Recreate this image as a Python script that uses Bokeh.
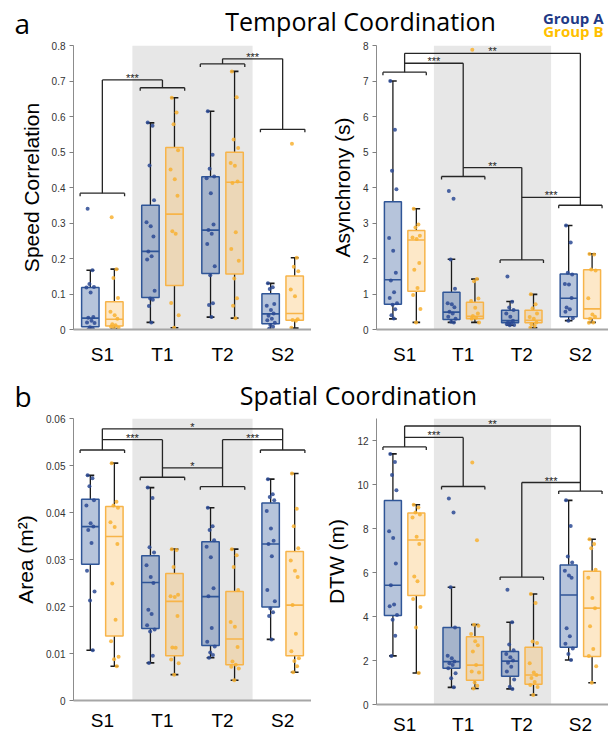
from bokeh.plotting import figure
from bokeh.layouts import column, row
from bokeh.models import Range1d, FixedTicker, ColumnDataSource
from bokeh.core.properties import value
from bokeh.embed import file_html
from bokeh.resources import INLINE

categories = ["S1", "T1", "T2", "S2"]

# ---------- Speed correlation ----------
speed_a_stats = [(0.0, 0.008, 0.032, 0.118, 0.167), (0.02, 0.09, 0.22, 0.35, 0.582),
                 (0.035, 0.158, 0.28, 0.43, 0.615), (0.0, 0.016, 0.044, 0.101, 0.13)]
speed_b_stats = [(0.003, 0.01, 0.029, 0.078, 0.17), (0.005, 0.124, 0.325, 0.513, 0.653),
                 (0.032, 0.156, 0.415, 0.499, 0.727), (0.004, 0.026, 0.045, 0.151, 0.202)]
speed_a_pts = [[0.34, 0.167, 0.128, 0.12, 0.118, 0.104, 0.035, 0.033, 0.025, 0.02, 0.018, 0.006, 0.003, 0.001],
               [0.583, 0.574, 0.462, 0.364, 0.302, 0.291, 0.262, 0.22, 0.206, 0.197, 0.109, 0.087, 0.084, 0.066, 0.02],
               [0.615, 0.492, 0.453, 0.431, 0.426, 0.384, 0.296, 0.28, 0.27, 0.241, 0.178, 0.153, 0.074, 0.069, 0.035],
               [0.13, 0.119, 0.114, 0.072, 0.067, 0.055, 0.045, 0.039, 0.03, 0.026, 0.019, 0.013, 0.008, 0.002]]
speed_b_pts = [[0.316, 0.17, 0.145, 0.089, 0.05, 0.04, 0.03, 0.015, 0.012, 0.008, 0.005, 0.003],
               [0.653, 0.611, 0.578, 0.505, 0.451, 0.423, 0.377, 0.277, 0.27, 0.075, 0.04, 0.005],
               [0.727, 0.654, 0.535, 0.511, 0.469, 0.461, 0.417, 0.413, 0.274, 0.227, 0.194, 0.144, 0.088, 0.067, 0.032],
               [0.523, 0.202, 0.177, 0.164, 0.113, 0.094, 0.029, 0.027, 0.025, 0.005]]
speed_ticks = [0, 0.1, 0.2, 0.3, 0.4, 0.5, 0.6, 0.7, 0.8]
speed_tick_labels = ["0", "0.1", "0.2", "0.3", "0.4", "0.5", "0.6", "0.7", "0.8"]
speed_bracket_y = [0.384, 0.681, 0.748, 0.564]
speed_links = [(0, 1, 0.703, "***"), (2, 3, 0.7625, "***")]

# ---------- Asynchrony ----------
async_a_stats = [(0.3, 0.71, 1.4, 3.6, 7.0), (0.2, 0.28, 0.49, 1.05, 1.98),
                 (0.12, 0.19, 0.25, 0.54, 0.79), (0.25, 0.36, 0.88, 1.56, 2.93)]
async_b_stats = [(0.2, 1.08, 2.52, 2.79, 3.4), (0.2, 0.3, 0.37, 0.77, 1.42),
                 (0.05, 0.19, 0.26, 0.54, 0.99), (0.2, 0.31, 0.58, 1.68, 2.13)]
async_a_pts = [[7.0, 5.63, 4.47, 3.95, 2.58, 2.22, 1.6, 1.38, 1.05, 0.89, 0.74, 0.7, 0.57, 0.4, 0.31],
               [3.9, 3.68, 1.97, 1.15, 0.74, 0.71, 0.63, 0.5, 0.45, 0.36, 0.3, 0.22, 0.2],
               [1.49, 0.78, 0.62, 0.55, 0.45, 0.36, 0.25, 0.2, 0.18, 0.15, 0.13, 0.12],
               [2.93, 2.45, 1.6, 1.55, 1.28, 1.27, 0.89, 0.62, 0.57, 0.5, 0.32, 0.25]]
async_b_pts = [[3.4, 2.96, 2.87, 2.64, 2.59, 2.55, 1.87, 1.68, 1.17, 0.97, 0.58, 0.2],
               [7.88, 1.42, 1.36, 0.87, 0.8, 0.61, 0.45, 0.38, 0.33, 0.3, 0.2],
               [0.99, 0.71, 0.6, 0.45, 0.35, 0.3, 0.2, 0.15, 0.1, 0.05],
               [2.13, 2.11, 1.69, 1.66, 0.88, 0.42, 0.36, 0.3, 0.2, 0.19]]
async_ticks = [0, 1, 2, 3, 4, 5, 6, 7, 8]
async_tick_labels = ["0", "1", "2", "3", "4", "5", "6", "7", "8"]
async_bracket_y = [7.25, 4.31, 1.96, 3.5]
async_links = [(0, 1, 7.5, "***"), (0, 3, 7.78, "**"), (1, 2, 4.56, "**"), (2, 3, 3.72, "***")]

# ---------- Area ----------
area_a_stats = [(0.0107, 0.029, 0.037, 0.0428, 0.0479), (0.008, 0.0153, 0.0251, 0.0308, 0.0453),
                (0.0091, 0.0117, 0.0221, 0.0338, 0.041), (0.013, 0.0199, 0.0333, 0.042, 0.0471)]
area_b_stats = [(0.0073, 0.0137, 0.0349, 0.0413, 0.0505), (0.0055, 0.0095, 0.0211, 0.027, 0.0322),
                (0.0043, 0.0076, 0.0131, 0.0232, 0.0322), (0.006, 0.0095, 0.0203, 0.0317, 0.0483)]
area_a_pts = [[0.0479, 0.0473, 0.0456, 0.0426, 0.0415, 0.0377, 0.037, 0.0363, 0.0335, 0.0276, 0.0232, 0.0213, 0.0107],
              [0.0453, 0.0431, 0.0326, 0.0315, 0.0288, 0.0263, 0.025, 0.0193, 0.0184, 0.016, 0.0151, 0.0147, 0.0095, 0.008],
              [0.041, 0.0371, 0.0363, 0.0341, 0.0327, 0.0305, 0.0239, 0.0222, 0.0154, 0.0125, 0.0115, 0.0102, 0.0097, 0.0091],
              [0.0471, 0.0439, 0.0433, 0.0426, 0.0403, 0.0366, 0.034, 0.0333, 0.0307, 0.0235, 0.0211, 0.0196, 0.0188, 0.018, 0.013]]
area_b_pts = [[0.0505, 0.0423, 0.0415, 0.041, 0.0379, 0.0369, 0.0333, 0.0249, 0.0172, 0.0126, 0.0093, 0.0088, 0.0073],
              [0.0322, 0.032, 0.0284, 0.0225, 0.0222, 0.022, 0.018, 0.0113, 0.0112, 0.0087, 0.0079, 0.0055],
              [0.0322, 0.0309, 0.0284, 0.0235, 0.0167, 0.0157, 0.0114, 0.0083, 0.0076, 0.0072, 0.0068, 0.0043],
              [0.0483, 0.0408, 0.0371, 0.0324, 0.0298, 0.0276, 0.0263, 0.0203, 0.0142, 0.0105, 0.009, 0.0084, 0.0073, 0.006]]
area_ticks = [0, 0.01, 0.02, 0.03, 0.04, 0.05, 0.06]
area_tick_labels = ["0", "0.01", "0.02", "0.03", "0.04", "0.05", "0.06"]
area_bracket_y = [0.0533, 0.0475, 0.0455, 0.0533]
area_links = [(0, 1, 0.0555, "***"), (0, 3, 0.0578, "*"), (1, 2, 0.0495, "*"), (2, 3, 0.0555, "***")]

# ---------- DTW ----------
dtw_a_stats = [(2.21, 4.05, 5.42, 9.27, 11.39), (0.78, 1.65, 1.95, 3.5, 5.33),
               (0.71, 1.28, 1.97, 2.41, 3.74), (2.02, 2.6, 4.98, 6.34, 9.28)]
dtw_b_stats = [(1.43, 4.96, 7.48, 8.7, 9.08), (0.73, 1.1, 1.79, 3.08, 3.63),
               (0.43, 0.92, 1.34, 2.6, 5.02), (0.99, 2.18, 4.38, 6.06, 7.51)]
dtw_a_pts = [[11.39, 11.02, 10.43, 9.74, 7.88, 7.57, 6.41, 5.42, 4.55, 4.47, 4.07, 3.85, 3.13, 2.21],
             [9.36, 8.73, 5.33, 3.5, 2.22, 2.1, 1.95, 1.88, 1.8, 1.65, 1.42, 1.19, 0.78],
             [5.22, 3.74, 2.73, 2.47, 2.29, 2.15, 2.0, 1.9, 1.72, 1.5, 1.14, 0.81, 0.71],
             [9.28, 8.11, 6.73, 6.46, 6.08, 5.86, 5.76, 3.47, 3.1, 2.76, 2.54, 2.3, 2.02]]
dtw_b_pts = [[9.08, 8.95, 8.73, 8.64, 8.5, 7.62, 7.3, 5.82, 5.6, 4.8, 4.43, 3.5, 1.43],
             [11.0, 7.47, 3.63, 3.58, 3.2, 2.87, 2.69, 2.41, 1.8, 1.5, 1.45, 1.0, 0.85, 0.73],
             [5.02, 4.61, 2.86, 2.8, 1.88, 1.45, 1.34, 1.2, 1.02, 0.89, 0.8, 0.43],
             [7.51, 7.3, 7.1, 6.12, 5.76, 4.84, 4.38, 3.56, 2.52, 2.2, 1.74, 0.99]]
dtw_ticks = [0, 2, 4, 6, 8, 10, 12]
dtw_tick_labels = ["0", "2", "4", "6", "8", "10", "12"]
dtw_bracket_y = [11.71, 9.91, 5.79, 9.7]
dtw_links = [(0, 1, 12.14, "***"), (0, 3, 12.66, "**"), (2, 3, 10.09, "***")]

# ---------- styling ----------
A_EDGE, A_DOT = "#2F5597", "#2B4A94"
B_EDGE, B_DOT = "#F7B449", "#F8B132"
JIT = [-0.045, 0.035, -0.015, 0.06, -0.065, 0.005, 0.05, -0.035, 0.02, -0.055, 0.07, -0.005, 0.04, -0.025, 0.015]
AX_FONT = "Liberation Sans"
TITLE_FONT = "Open Sans"


def draw_group(p, stats, pts, offset, edge, dot, fill_alpha):
    xs = [i + 1 + offset for i in range(len(stats))]
    lo = [s[0] for s in stats]; q1 = [s[1] for s in stats]; med = [s[2] for s in stats]
    q3 = [s[3] for s in stats]; hi = [s[4] for s in stats]
    hw, cw = 0.145, 0.065
    p.segment(xs, lo, xs, q1, line_color="#1A1A1A", line_width=1.3)
    p.segment(xs, q3, xs, hi, line_color="#1A1A1A", line_width=1.3)
    p.segment([x - cw for x in xs], lo, [x + cw for x in xs], lo, line_color="#1A1A1A", line_width=1.6)
    p.segment([x - cw for x in xs], hi, [x + cw for x in xs], hi, line_color="#1A1A1A", line_width=1.6)
    p.quad(left=[x - hw for x in xs], right=[x + hw for x in xs], bottom=q1, top=q3,
           fill_color=edge, fill_alpha=fill_alpha, line_color=edge, line_width=1.5)
    p.segment([x - hw for x in xs], med, [x + hw for x in xs], med, line_color=edge, line_width=1.6)
    px, py = [], []
    for i, vals in enumerate(pts):
        for j, v in enumerate(vals):
            px.append(xs[i] + JIT[j % len(JIT)])
            py.append(v)
    p.scatter(px, py, size=4, fill_color=dot, line_color=None, fill_alpha=0.85)


def draw_brackets(p, br_y, links, ymax, frame_h):
    unit = ymax / frame_h
    tick = 3.0 * unit
    top = {}
    for g1, g2, y, _ in links:
        top[g1] = max(top.get(g1, 0), y)
        top[g2] = max(top.get(g2, 0), y)
    hb = 0.37
    x0, y0, x1, y1 = [], [], [], []
    for i, yb in enumerate(br_y):
        c = i + 1
        x0 += [c - hb, c - hb, c + hb, c]
        y0 += [yb, yb - tick, yb - tick, yb]
        x1 += [c + hb, c - hb, c + hb, c]
        y1 += [yb, yb, yb, top[i]]
    for g1, g2, y, _ in links:
        x0.append(g1 + 1); x1.append(g2 + 1); y0.append(y); y1.append(y)
    p.segment(x0, y0, x1, y1, line_color="#262626", line_width=1.3)
    src = ColumnDataSource(dict(x=[(g1 + g2) / 2 + 1 for g1, g2, _, _ in links],
                                y=[y - 4.0 * unit for _, _, y, _ in links],
                                t=[s for _, _, _, s in links]))
    p.text(x="x", y="y", text="t", source=src, text_align="center", text_baseline="bottom",
           text_font_size="11px", text_color="#222222", text_font=value(AX_FONT))


def make_panel(ylabel, ymax, ticks, tick_labels, a_stats, b_stats, a_pts, b_pts, br_y, links,
               b_left, frame_w, frame_h, b_top, b_bottom, x_standoff):
    p = figure(frame_width=frame_w, frame_height=frame_h,
               x_range=Range1d(0.52, 4.48), y_range=Range1d(0, ymax),
               output_backend="svg", toolbar_location=None,
               min_border_left=b_left, min_border_right=0, min_border_top=b_top, min_border_bottom=b_bottom)
    p.quad(left=[1.5], right=[3.5], bottom=[0], top=[ymax], fill_color="#E7E7E7", line_color=None)
    draw_group(p, a_stats, a_pts, -0.2, A_EDGE, A_DOT, 0.35)
    draw_group(p, b_stats, b_pts, 0.2, B_EDGE, B_DOT, 0.3)
    draw_brackets(p, br_y, links, ymax, frame_h)
    p.grid.visible = False
    p.outline_line_color = None
    p.background_fill_color = "white"
    p.border_fill_color = "white"
    xa = p.xaxis[0]
    xa.ticker = FixedTicker(ticks=[1, 2, 3, 4])
    xa.major_label_overrides = {i + 1: c for i, c in enumerate(categories)}
    xa.major_tick_line_color = None
    xa.minor_tick_line_color = None
    xa.axis_line_color = "#A6A6A6"
    xa.axis_line_width = 2
    xa.major_label_text_font_size = "19px"
    xa.major_label_text_font = AX_FONT
    xa.major_label_text_color = "black"
    xa.major_label_standoff = x_standoff
    ya = p.yaxis[0]
    ya.ticker = FixedTicker(ticks=ticks)
    ya.major_label_overrides = dict(zip(ticks, tick_labels))
    ya.minor_tick_line_color = None
    ya.major_tick_out = 4
    ya.major_tick_in = 0
    ya.major_tick_line_color = "#7F7F7F"
    ya.axis_line_color = "#8C8C8C"
    ya.major_label_text_font_size = "10px"
    ya.major_label_text_font = AX_FONT
    ya.major_label_text_color = "#333333"
    ya.major_label_standoff = 4
    ya.axis_label = ylabel
    ya.axis_label_text_font = AX_FONT
    ya.axis_label_text_font_size = "21px"
    ya.axis_label_text_font_style = "normal"
    ya.axis_label_text_color = "black"
    ya.axis_label_standoff = 6
    return p


def header(h, texts):
    hp = figure(width=608, height=h, x_range=Range1d(0, 608), y_range=Range1d(h, 0),
                output_backend="svg", toolbar_location=None, min_border=0)
    hp.axis.visible = False
    hp.grid.visible = False
    hp.outline_line_color = None
    for (x, y, t, size, color, style, align) in texts:
        hp.text(x=[x], y=[y], text=[t], text_font=value(TITLE_FONT), text_font_size=size,
                text_color=color, text_font_style=style, text_align=align, text_baseline="alphabetic")
    return hp


h1 = header(41, [(14, 22.5, "a", "28px", "black", "normal", "left"),
                 (360, 20, "Temporal Coordination", "25px", "black", "normal", "center"),
                 (603, 17, "Group A", "15px", "#1F3A86", "bold", "right"),
                 (603, 30.5, "Group B", "15px", "#FFC000", "bold", "right")])
h2 = header(46, [(14, 27.5, "b", "28px", "black", "normal", "left"),
                 (358, 26, "Spatial Coordination", "25px", "black", "normal", "center")])

p1 = make_panel("Speed Correlation", 0.8, speed_ticks, speed_tick_labels, speed_a_stats, speed_b_stats,
                speed_a_pts, speed_b_pts, speed_bracket_y, speed_links, 73, 238, 284, 4, 39, 8)
p2 = make_panel("Asynchrony (s)", 8, async_ticks, async_tick_labels, async_a_stats, async_b_stats,
                async_a_pts, async_b_pts, async_bracket_y, async_links, 65, 232, 284, 4, 39, 8)
p3 = make_panel("Area (m²)", 0.06, area_ticks, area_tick_labels, area_a_stats, area_b_stats,
                area_a_pts, area_b_pts, area_bracket_y, area_links, 73, 238, 282, 4, 34, 3)
p4 = make_panel("DTW (m)", 13, dtw_ticks, dtw_tick_labels, dtw_a_stats, dtw_b_stats,
                dtw_a_pts, dtw_b_pts, dtw_bracket_y, dtw_links, 65, 232, 286, 0, 34, 3)

layout = column(h1, row(p1, p2), h2, row(p3, p4))
open("out.html", "w").write(file_html(layout, INLINE))
